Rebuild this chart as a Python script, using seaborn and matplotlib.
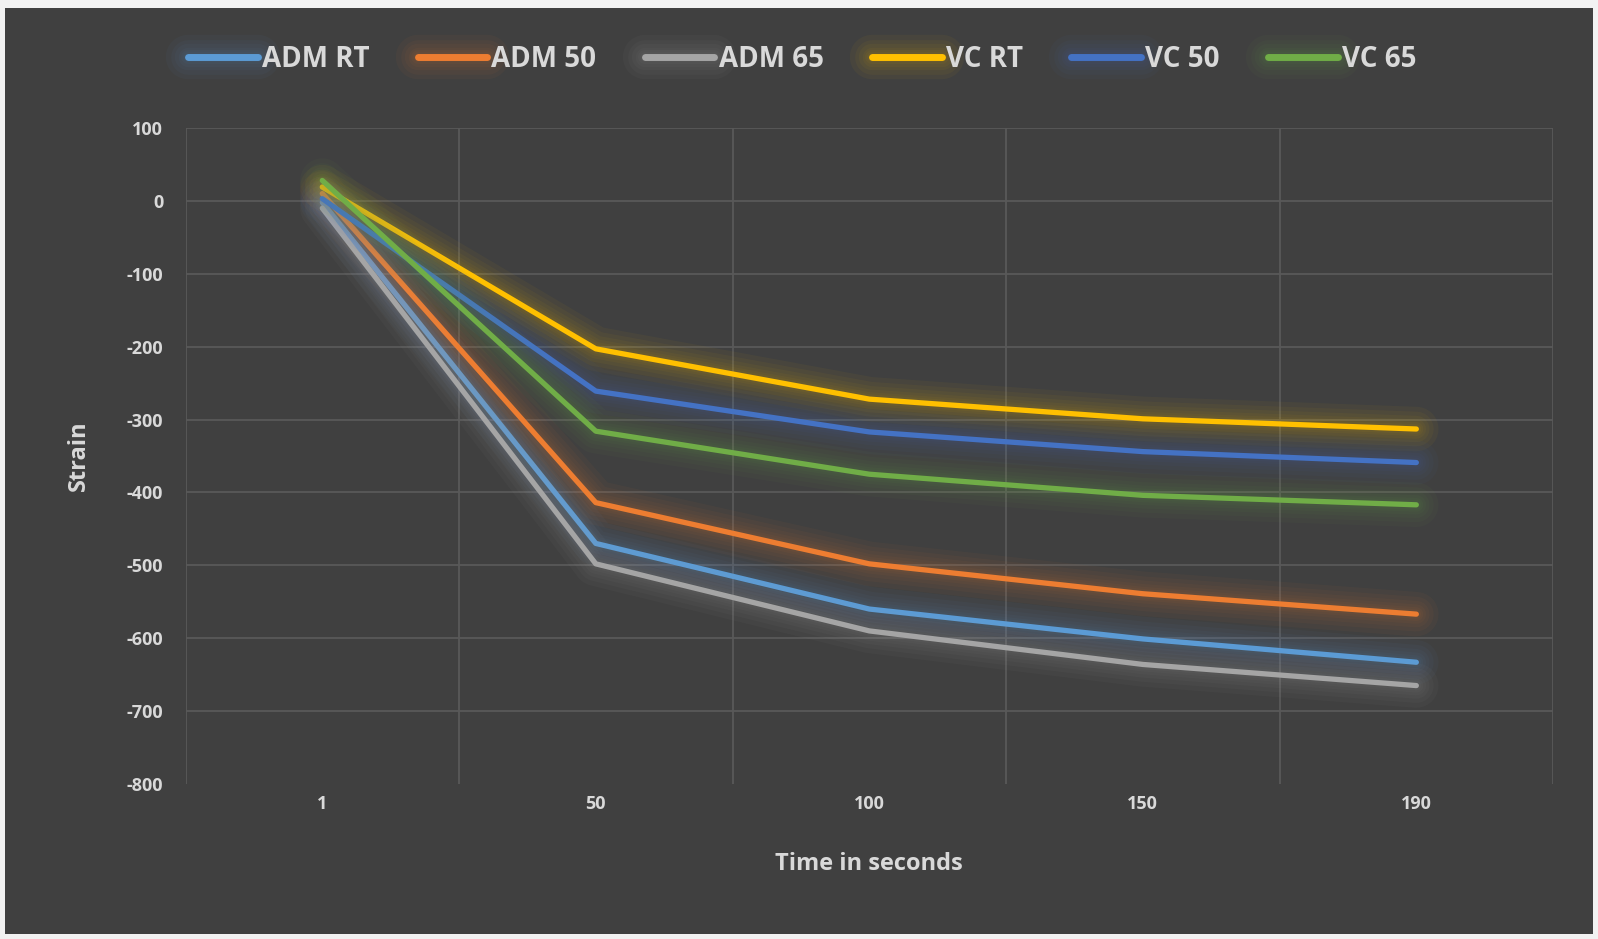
import numpy as np
import pandas as pd
import matplotlib
matplotlib.use("Agg")
import matplotlib.pyplot as plt
import matplotlib.patheffects as pe
from matplotlib.patches import Rectangle
import seaborn as sns

# Data
time_labels = ["1", "50", "100", "150", "190"]
series_names = ["ADM RT", "ADM 50", "ADM 65", "VC RT", "VC 50", "VC 65"]
adm_rt = [-2, -470, -560, -601, -633]
adm_50 = [10, -414, -498, -539, -567]
adm_65 = [-10, -498, -590, -636, -665]
vc_rt = [19, -203, -272, -299, -313]
vc_50 = [3, -261, -317, -344, -359]
vc_65 = [28, -316, -375, -404, -417]
colors = ["#5B9BD5", "#ED7D31", "#A5A5A5", "#FFC000", "#4472C4", "#70AD47"]

bg = "#404040"
txt = "#d9d9d9"
grid_c = "#595959"

# long-form table for seaborn
rows = []
for name, vals in zip(series_names, [adm_rt, adm_50, adm_65, vc_rt, vc_50, vc_65]):
    for i, v in enumerate(vals):
        rows.append({"pos": i, "Strain": v, "series": name})
df = pd.DataFrame(rows)

sns.set_style("dark")
plt.rcParams["font.family"] = ["Open Sans", "DejaVu Sans"]
plt.rcParams["axes.unicode_minus"] = False

fig = plt.figure(figsize=(15.98, 9.39), dpi=100)
fig.patch.set_facecolor("#f2f2f2")
fig.patches.append(Rectangle((0.003, 0.005), 0.994, 0.987, transform=fig.transFigure,
                             facecolor=bg, edgecolor="none", zorder=-10))

ax = fig.add_axes([0.1161, 0.1651, 0.8558, 0.6986])
ax.set_facecolor(bg)

sns.lineplot(data=df, x="pos", y="Strain", hue="series", hue_order=series_names,
             palette=colors, linewidth=3.8, ax=ax, legend=True)

# soft glow around each line, like the original
glow = [pe.Stroke(linewidth=w, alpha=0.045) for w in (32, 25, 19, 14, 10, 7)] + [pe.Normal()]
for line in ax.get_lines():
    line.set_path_effects(glow)
    line.set_solid_capstyle("round")
    line.set_solid_joinstyle("round")

ax.set_xlim(-0.5, 4.5)
ax.set_ylim(-800, 100)
ax.set_xticks(range(len(time_labels)))
ax.set_xticklabels(time_labels)
ax.set_yticks(np.arange(-800, 101, 100))

# gridlines: vertical ones between categories
for xv in np.arange(-0.5, 4.6, 1):
    ax.axvline(xv, color=grid_c, lw=1.3, zorder=0)
for yv in np.arange(-700, 101, 100):
    ax.axhline(yv, color=grid_c, lw=1.3, zorder=0)
ax.grid(False)

for s in ax.spines.values():
    s.set_visible(False)
ax.tick_params(axis="both", length=0, colors=txt, labelsize=13)
ax.tick_params(axis="y", pad=16)
ax.tick_params(axis="x", pad=8)
for lab in ax.get_xticklabels() + ax.get_yticklabels():
    lab.set_fontweight("bold")

ax.set_xlabel("Time in seconds", color=txt, fontsize=17, fontweight="bold", labelpad=28)
ax.set_ylabel("Strain", color=txt, fontsize=17, fontweight="bold", labelpad=26)

handles, labels = ax.get_legend_handles_labels()
ax.get_legend().remove()
for h in handles:
    h.set_linewidth(5)
    h.set_solid_capstyle("round")
leg = fig.legend(handles, labels, loc="center", bbox_to_anchor=(0.502, 0.937), ncol=6,
                 frameon=False, handlelength=2.5, handletextpad=0.15, columnspacing=1.75,
                 prop={"size": 20, "weight": "bold"})
for t in leg.get_texts():
    t.set_color(txt)

fig.savefig("out.png", dpi=100, facecolor=fig.get_facecolor())
